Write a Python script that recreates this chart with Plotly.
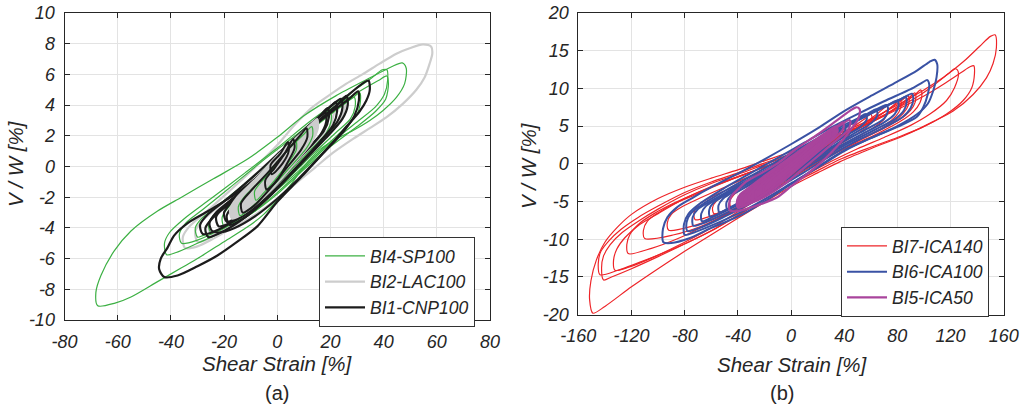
import plotly.graph_objects as go

# ---------------- Panel (a) data: hysteresis loops, (shear strain %, V/W %) ----------------
bi4_sp100 = [
    [(-67.5,-9.07),(-68.2,-8.2),(-66.3,-7.1),(-61.3,-5.5),(-55,-4.2),(-45,-2.9),(-36,-2.0),(-24,-0.8),(-11,0.5),(0,1.9),(10,3.3),(22,4.6),(34,5.7),(43,6.5),(47,6.75),(48.5,6.4),(47.9,5.4),(44.8,4.5),(39.8,3.65),(34.8,3.0),(28.5,2.35),(22.3,1.8),(16,1.1),(10,0.0),(5,-1.2),(0,-2.2),(-5,-3.1),(-10,-3.8),(-20,-4.9),(-30,-6.0),(-36,-6.6),(-45,-7.5),(-55,-8.5),(-61,-8.9),(-67.5,-9.07)],
    [(-41.6,-5.75),(-42.4,-5.0),(-40.5,-4.3),(-35,-3.4),(-25,-2.1),(-12,-0.4),(0,1.2),(12,2.9),(25,4.5),(35,5.7),(39.5,6.3),(41.2,6.3),(41.5,5.6),(40.3,4.7),(37,3.9),(30,2.9),(20,1.5),(10,-0.1),(0,-1.7),(-10,-3.1),(-20,-4.2),(-30,-5.0),(-38,-5.6),(-41.6,-5.75)],
    [(-36,-5.0),(-36.8,-4.4),(-34.5,-3.7),(-28,-2.8),(-18,-1.4),(-6,0.3),(6,1.9),(18,3.5),(30,4.8),(38,5.6),(41.2,5.9),(41.8,5.4),(40.8,4.4),(37,3.6),(30,2.6),(20,1.3),(10,-0.2),(0,-1.8),(-10,-3.1),(-20,-4.0),(-30,-4.8),(-36,-5.0)],
    [(-30,-4.6),(-30.8,-4.0),(-28.5,-3.4),(-22,-2.5),(-12,-1.1),(0,0.7),(12,2.4),(22,3.7),(28.5,4.5),(31,4.8),(31.3,4.3),(30,3.4),(26,2.6),(18,1.3),(8,-0.3),(-2,-1.8),(-12,-3.1),(-22,-4.1),(-28,-4.5),(-30,-4.6)],
    [(-25,-4.3),(-25.8,-3.7),(-23,-3.0),(-15,-1.9),(-5,-0.4),(5,1.2),(15,2.7),(24,3.9),(29,4.5),(29.3,3.9),(27.5,3.1),(22,2.2),(14,0.9),(4,-0.8),(-6,-2.4),(-16,-3.6),(-22,-4.2),(-25,-4.3)],
    [(-20,-3.9),(-20.7,-3.3),(-18,-2.6),(-10,-1.4),(0,0.3),(10,1.9),(17,3.1),(20,3.6),(20.3,3.0),(18.5,2.2),(12,1.0),(2,-0.8),(-8,-2.4),(-15,-3.4),(-20,-3.9)],
]
bi4_sp100_inner = [
    [(-14,-3.2),(-14.6,-2.6),(-12,-1.9),(-5,-0.7),(3,0.9),(10,2.1),(13,2.6),(13.3,2.0),(11,1.2),(4,-0.2),(-4,-1.7),(-10,-2.7),(-14,-3.2)],
    [(-8,-2.2),(-8.5,-1.6),(-5,-0.8),(0,0.2),(5,1.3),(7,1.7),(7.2,1.1),(4,0.2),(-1,-0.9),(-5,-1.7),(-8,-2.2)],
]

bi2_lac100 = [
    [(-34.7,-5.3),(-35.5,-4.6),(-33,-3.9),(-27,-3.0),(-18,-1.6),(-8,0.0),(0,1.4),(7,2.8),(13.5,3.9),(20,4.7),(26,5.4),(32,6.0),(38.5,6.7),(44.8,7.35),(49.8,7.7),(54.8,7.95),(57.9,7.8),(58.3,7.35),(57.3,6.7),(55.4,5.8),(52.3,5.0),(47.3,4.1),(41,3.2),(34.8,2.5),(28.5,1.8),(21,0.9),(14,-0.1),(7,-1.1),(0,-2.1),(-8,-3.1),(-16,-3.9),(-24,-4.7),(-30,-5.2),(-34.7,-5.3)],
    [(-30,-4.9),(-30.8,-4.2),(-28,-3.5),(-20,-2.3),(-10,-0.8),(0,0.8),(10,2.3),(19,3.7),(24,4.4),(25.3,4.5),(25.5,3.9),(23.5,3.0),(18,1.9),(10,0.5),(0,-1.3),(-10,-2.9),(-20,-4.1),(-27,-4.8),(-30,-4.9)],
    [(-25,-4.4),(-25.8,-3.8),(-23,-3.1),(-15,-1.9),(-5,-0.3),(5,1.4),(14,2.9),(19.5,3.8),(21,4.0),(21.2,3.4),(19.5,2.5),(13,1.2),(4,-0.5),(-6,-2.2),(-15,-3.5),(-22,-4.3),(-25,-4.4)],
]
bi2_lac100_core = [
    [(-17,-3.4),(-17.8,-2.8),(-15,-2.0),(-8,-0.8),(0,0.7),(8,2.0),(13,2.8),(15,3.1),(15.3,2.5),(13,1.6),(7,0.3),(-1,-1.3),(-9,-2.6),(-14,-3.2),(-17,-3.4)],
]

bi1_cnp100 = [
    [(-42.5,-7.2),(-44.4,-6.7),(-43.8,-6.0),(-41.3,-5.3),(-38.8,-4.5),(-33.8,-3.7),(-26,-2.9),(-17.5,-2.0),(-9,-0.9),(0,0.6),(10,2.1),(20,3.6),(27,4.7),(32,5.4),(34.3,5.6),(34.8,5.0),(33.5,4.3),(31,3.6),(26,2.6),(20,1.4),(10,-0.5),(0,-2.3),(-7.5,-3.9),(-15,-4.9),(-22.5,-5.8),(-30,-6.5),(-37.5,-7.1),(-42.5,-7.2)],
    [(-24.5,-4.2),(-25.5,-3.7),(-23,-3.0),(-16,-2.0),(-8,-0.8),(0,0.5),(10,2.1),(20,3.5),(27,4.4),(30.4,4.9),(30.7,4.3),(29,3.3),(25,2.3),(18,1.0),(8,-0.8),(0,-2.1),(-8,-3.2),(-16,-4.0),(-22,-4.3),(-24.5,-4.2)],
    [(-28,-4.4),(-29,-3.8),(-26,-3.1),(-18,-2.0),(-8,-0.5),(2,1.1),(12,2.7),(17,3.4),(18.2,3.5),(18.4,2.9),(16,2.0),(8,0.5),(-2,-1.5),(-12,-3.0),(-22,-4.1),(-28,-4.4)],
    [(-26,-4.6),(-27,-4.0),(-24,-3.3),(-15,-2.0),(-5,-0.4),(5,1.3),(15,2.9),(23,4.1),(26,4.6),(26.5,4.0),(24.5,3.1),(18,1.8),(8,0.0),(-2,-1.8),(-12,-3.3),(-20,-4.2),(-26,-4.6)],
    [(-22,-3.9),(-23,-3.3),(-20,-2.6),(-12,-1.4),(-3,0.0),(6,1.6),(15,3.1),(20.5,4.0),(22,4.2),(22.5,3.6),(21,2.7),(16,1.6),(7,-0.1),(-2,-1.7),(-11,-3.0),(-18,-3.7),(-22,-3.9)],
    [(-18,-3.8),(-19,-3.2),(-16,-2.4),(-8,-1.0),(2,0.8),(12,2.6),(20,3.9),(24,4.4),(24.5,3.8),(22.5,2.9),(16,1.6),(6,-0.3),(-4,-2.1),(-12,-3.3),(-18,-3.8)],
    [(-19,-3.6),(-20,-3.0),(-17,-2.3),(-9,-1.1),(0,0.4),(9,2.0),(16,3.3),(19,3.8),(19.4,3.2),(17.5,2.3),(11,1.1),(2,-0.7),(-7,-2.2),(-14,-3.2),(-19,-3.6)],
]
bi1_cnp100_inner = [
    [(-13,-3.0),(-13.6,-2.4),(-10,-1.6),(-3,-0.3),(4,1.1),(9,2.1),(11,2.5),(11.3,1.9),(9,1.1),(3,-0.2),(-4,-1.7),(-9,-2.6),(-13,-3.0)],
    [(-4,-1.5),(-4.5,-0.9),(-1,-0.1),(3,0.9),(6,1.8),(6.5,1.2),(4,0.3),(0,-0.9),(-4,-1.5)],
    [(-2,-0.5),(-2.5,0.1),(1,0.8),(4,1.6),(4.3,1.0),(2,0.2),(-2,-0.5)],
]

# ---------------- Panel (b) data ----------------
bi7_ica140 = [
    [(-149,-19.8),(-151.5,-18.0),(-150.5,-15.5),(-146.5,-12.8),(-140,-10.4),(-130,-8.3),(-120,-6.7),(-100,-4.6),(-80,-3.1),(-60,-1.9),(-40,-0.8),(-20,0.4),(0,1.6),(20,2.9),(40,4.3),(60,5.9),(80,7.8),(100,9.8),(115,11.5),(130,13.6),(142,15.6),(150,16.9),(153.5,17.1),(154.5,15.4),(152,13.3),(147,11.4),(137,9.2),(122,7.0),(107,5.6),(87,3.9),(60,2.0),(37,0.3),(20,-1.2),(0,-3.0),(-20,-5.1),(-40,-7.2),(-60,-9.4),(-80,-11.6),(-100,-13.9),(-120,-16.3),(-140,-18.9),(-149,-19.8)],
    [(-143.7,-14.7),(-145,-13.2),(-143,-11.6),(-137,-10.2),(-128,-8.7),(-115,-7.1),(-100,-5.6),(-80,-3.8),(-60,-2.4),(-40,-1.2),(-20,0.1),(0,1.3),(20,2.6),(40,4.0),(60,5.5),(80,7.2),(100,9.0),(115,10.6),(128,12.1),(135,12.9),(137.5,13.0),(138,11.9),(136,10.1),(129.5,8.4),(117,6.6),(99.5,4.9),(80,3.5),(60,2.2),(37,0.6),(20,-0.9),(0,-2.7),(-20,-4.7),(-40,-6.8),(-60,-8.9),(-85,-11.0),(-110,-12.8),(-130,-14.1),(-143.7,-14.7)],
    [(-141,-15.4),(-142.5,-13.8),(-141,-12.2),(-136,-10.7),(-127,-9.1),(-114,-7.5),(-100,-6.0),(-80,-4.1),(-60,-2.6),(-40,-1.4),(-20,-0.1),(0,1.2),(20,2.6),(40,4.0),(60,5.6),(80,7.4),(95,8.9),(108,10.5),(118,11.9),(123,12.6),(125,12.5),(126,11.9),(123,10.1),(117,8.4),(104.5,6.6),(90,5.1),(70,3.5),(50,2.0),(30,0.3),(10,-1.6),(-10,-3.7),(-30,-5.8),(-50,-7.9),(-75,-10.2),(-100,-12.3),(-120,-13.9),(-135,-15.0),(-141,-15.4)],
    [(-132.4,-14.1),(-133.5,-12.8),(-131,-11.3),(-125,-9.8),(-115,-8.2),(-100,-6.6),(-80,-4.6),(-60,-3.0),(-40,-1.7),(-20,-0.4),(0,0.9),(20,2.4),(40,3.9),(60,5.5),(75,6.9),(87,8.3),(94,9.3),(97.5,9.8),(98.5,9.3),(97,8.1),(92,6.9),(82,5.6),(65,4.0),(45,2.4),(25,0.6),(5,-1.4),(-15,-3.6),(-35,-5.8),(-55,-8.0),(-80,-10.4),(-105,-12.5),(-122,-13.7),(-132.4,-14.1)],
    [(-122.4,-11.9),(-123.5,-10.7),(-121,-9.3),(-114,-7.9),(-103,-6.6),(-88,-5.2),(-70,-3.8),(-50,-2.4),(-30,-1.1),(-10,0.2),(10,1.6),(30,3.0),(50,4.6),(68,6.2),(80,7.6),(89,8.8),(93,9.4),(94,8.8),(92,7.6),(86,6.4),(74,5.1),(56,3.5),(36,1.8),(16,-0.1),(-5,-2.2),(-25,-4.3),(-45,-6.3),(-65,-8.2),(-85,-9.9),(-105,-11.2),(-122.4,-11.9)],
    [(-110,-9.9),(-111,-8.8),(-108,-7.6),(-100,-6.5),(-88,-5.3),(-72,-4.1),(-55,-2.8),(-35,-1.4),(-15,-0.1),(5,1.3),(25,2.8),(45,4.4),(62,6.0),(75,7.4),(84,8.5),(88,9.0),(89,8.4),(87,7.3),(81,6.1),(69,4.8),(52,3.2),(32,1.4),(12,-0.5),(-8,-2.6),(-28,-4.7),(-48,-6.7),(-68,-8.3),(-88,-9.4),(-110,-9.9)],
    [(-92,-8.8),(-93,-7.8),(-90,-6.7),(-82,-5.7),(-68,-4.5),(-50,-3.1),(-30,-1.6),(-10,-0.2),(10,1.3),(30,2.9),(50,4.6),(65,6.2),(76,7.6),(82,8.5),(83,7.9),(81,6.8),(75,5.7),(62,4.4),(45,2.9),(25,1.0),(5,-1.0),(-15,-3.1),(-35,-5.2),(-55,-7.0),(-75,-8.3),(-92,-8.8)],
    [(-72,-7.4),(-73,-6.5),(-70,-5.5),(-60,-4.4),(-45,-3.2),(-25,-1.6),(-5,0.0),(15,1.6),(35,3.3),(52,5.0),(64,6.5),(72,7.6),(73,7.0),(70,5.9),(62,4.8),(48,3.4),(30,1.6),(10,-0.4),(-10,-2.5),(-30,-4.5),(-50,-6.2),(-72,-7.4)],
    [(-58,-6.6),(-59,-5.8),(-56,-4.9),(-46,-3.8),(-30,-2.3),(-10,-0.5),(10,1.3),(30,3.1),(45,4.7),(55,5.9),(60,6.6),(61,6.0),(58,5.0),(48,3.8),(32,2.1),(12,0.0),(-8,-2.1),(-28,-4.2),(-45,-5.8),(-58,-6.6)],
    [(-45,-5.8),(-46,-5.0),(-43,-4.1),(-32,-2.8),(-15,-1.0),(5,1.0),(25,2.9),(38,4.3),(46,5.4),(47,4.8),(44,3.9),(34,2.6),(18,0.8),(-2,-1.4),(-22,-3.6),(-38,-5.2),(-45,-5.8)],
    [(-32,-4.8),(-33,-4.1),(-30,-3.3),(-18,-1.9),(-2,-0.1),(15,1.9),(27,3.4),(33,4.3),(34,3.7),(30,2.8),(18,1.3),(2,-0.6),(-14,-2.6),(-26,-4.1),(-32,-4.8)],
]

bi6_ica100 = [
    [(-96,-10.4),(-96.3,-8.6),(-93,-7.1),(-86,-5.8),(-75,-4.6),(-60,-3.1),(-40,-1.3),(-20,0.6),(0,2.6),(20,4.7),(40,7.0),(60,9.0),(80,10.9),(95,12.4),(104,13.5),(108,13.8),(110,13.2),(109.5,11.5),(107,9.7),(103,8.0),(95,6.6),(80,5.0),(60,3.4),(40,1.8),(20,-0.4),(0,-2.7),(-20,-5.0),(-40,-7.0),(-60,-8.5),(-77,-9.9),(-90,-10.5),(-96,-10.4)],
    [(-80,-9.4),(-80.5,-8.0),(-77,-6.6),(-68,-5.2),(-50,-3.2),(-30,-1.2),(-10,0.8),(10,2.8),(30,4.8),(50,6.6),(70,8.3),(90,9.9),(99,10.8),(102.5,11.1),(104,10.5),(103,9.3),(99.5,7.5),(94.5,6.2),(80,4.9),(60,3.4),(40,1.7),(20,-0.5),(0,-2.6),(-20,-4.7),(-40,-6.6),(-60,-8.2),(-73,-9.1),(-80,-9.4)],
    [(-78,-8.9),(-78.5,-7.7),(-75,-6.5),(-66,-5.3),(-50,-3.6),(-30,-1.6),(-10,0.4),(10,2.4),(30,4.3),(50,6.0),(70,7.6),(84,8.7),(91,9.3),(92,8.6),(90,7.4),(84,6.2),(70,4.8),(50,3.1),(30,1.1),(10,-1.1),(-10,-3.2),(-30,-5.2),(-50,-7.0),(-66,-8.3),(-78,-8.9)],
    [(-73.5,-8.2),(-74,-7.1),(-70,-6.0),(-60,-4.9),(-45,-3.4),(-25,-1.4),(-5,0.6),(15,2.6),(35,4.4),(55,6.2),(72,7.7),(82,8.5),(86,8.9),(87,8.2),(85,7.1),(78,5.9),(64,4.6),(45,2.9),(25,0.9),(5,-1.2),(-15,-3.3),(-35,-5.3),(-53,-6.9),(-65,-7.8),(-73.5,-8.2)],
    [(-67,-7.6),(-67.5,-6.6),(-64,-5.6),(-54,-4.5),(-38,-2.9),(-18,-0.9),(2,1.1),(22,3.1),(42,5.0),(60,6.7),(73,7.8),(80,8.4),(81,7.7),(78,6.6),(70,5.5),(55,4.1),(36,2.3),(16,0.3),(-4,-1.8),(-24,-3.9),(-44,-5.8),(-58,-7.0),(-67,-7.6)],
    [(-61,-7.0),(-61.5,-6.1),(-58,-5.1),(-48,-4.0),(-32,-2.4),(-12,-0.4),(8,1.6),(28,3.6),(46,5.4),(61,6.9),(72,7.8),(73,7.1),(70,6.0),(60,4.9),(44,3.4),(24,1.4),(4,-0.7),(-16,-2.9),(-36,-4.9),(-52,-6.4),(-61,-7.0)],
    [(-54,-6.4),(-54.5,-5.5),(-51,-4.6),(-40,-3.4),(-22,-1.6),(-2,0.4),(18,2.5),(36,4.4),(52,6.0),(64,7.2),(65,6.5),(61,5.5),(50,4.3),(32,2.4),(12,0.3),(-8,-1.9),(-28,-4.0),(-45,-5.7),(-54,-6.4)],
    [(-48,-6.0),(-48.5,-5.1),(-45,-4.2),(-33,-3.0),(-15,-1.1),(5,1.0),(25,3.1),(42,4.9),(56,6.6),(57,5.9),(52,4.9),(40,3.6),(22,1.6),(2,-0.6),(-18,-2.9),(-36,-4.9),(-48,-6.0)],
    [(-38,-5.3),(-38.5,-4.5),(-35,-3.7),(-22,-2.2),(-5,-0.2),(15,2.0),(30,3.8),(40,5.2),(41,4.5),(36,3.4),(22,1.6),(2,-0.7),(-18,-3.0),(-32,-4.6),(-38,-5.3)],
    [(-25,-4.0),(-25.5,-3.3),(-22,-2.5),(-10,-1.0),(5,0.8),(18,2.7),(25,3.8),(26,3.1),(20,1.8),(6,0.0),(-10,-2.0),(-20,-3.3),(-25,-4.0)],
]

bi5_ica50 = [
    [(-46,-6.2),(-46.5,-5.2),(-44.5,-4.2),(-40,-3.4),(-34,-2.4),(-20,-1.0),(-9,0.2),(4,2.0),(20,3.9),(34,5.7),(44,7.0),(49,7.5),(51.5,7.3),(51.7,6.6),(49.5,5.6),(46,4.8),(40,3.4),(34,2.2),(24,0.4),(11,-1.5),(0,-3.0),(-10,-4.4),(-22,-5.3),(-34,-6.0),(-42,-6.3),(-46,-6.2)],
    [(-40,-5.8),(-40.5,-4.9),(-38,-4.0),(-30,-3.0),(-18,-1.5),(-5,0.2),(10,2.0),(25,3.8),(37,5.1),(44,5.8),(44.6,5.2),(42,4.3),(34,3.1),(22,1.3),(8,-0.8),(-5,-2.7),(-18,-4.2),(-30,-5.2),(-40,-5.8)],
    [(-36,-5.5),(-36.5,-4.6),(-33,-3.7),(-24,-2.6),(-10,-0.9),(5,0.9),(20,2.9),(32,4.5),(39,5.5),(39.6,4.8),(36,3.9),(27,2.6),(14,0.7),(0,-1.4),(-12,-3.2),(-25,-4.6),(-36,-5.5)],
    [(-31,-5.1),(-31.5,-4.3),(-28,-3.4),(-18,-2.1),(-4,-0.3),(10,1.6),(24,3.5),(34,4.9),(34.6,4.2),(30,3.2),(18,1.4),(4,-0.7),(-9,-2.6),(-21,-4.1),(-31,-5.1)],
    [(-26,-4.6),(-26.5,-3.8),(-23,-2.9),(-12,-1.5),(2,0.4),(16,2.4),(29,4.4),(29.5,3.7),(25,2.7),(13,1.0),(0,-1.0),(-13,-3.0),(-26,-4.6)],
    [(-20,-3.9),(-20.5,-3.1),(-17,-2.3),(-6,-0.8),(8,1.2),(22,3.5),(22.5,2.8),(17,1.7),(4,-0.2),(-9,-2.3),(-20,-3.9)],
]
bi5_ica50_core = [
    [(-40,-5.6),(-40,-4.6),(-32,-3.2),(-20,-1.6),(-5,0.3),(10,2.2),(25,4.0),(34,5.0),(35,4.2),(28,3.0),(14,1.0),(0,-1.2),(-14,-3.2),(-28,-4.8),(-40,-5.6)],
]

# axis ticks
xa_ticks = [-80, -60, -40, -20, 0, 20, 40, 60, 80]
ya_ticks = [-10, -8, -6, -4, -2, 0, 2, 4, 6, 8, 10]
xb_ticks = [-160, -120, -80, -40, 0, 40, 80, 120, 160]
yb_ticks = [-20, -15, -10, -5, 0, 5, 10, 15, 20]

FONT = "Liberation Sans"
fig = go.Figure()


def add_series(loops, name, color, width, xa, ya, legend, rank, show=True, fill=None):
    xs, ys = [], []
    for loop in loops:
        for x, y in loop:
            xs.append(x)
            ys.append(y)
        xs.append(None)
        ys.append(None)
    fig.add_trace(go.Scatter(
        x=xs, y=ys, mode="lines", name=name, xaxis=xa, yaxis=ya,
        line=dict(color=color, width=width, shape="spline", smoothing=0.8),
        legend=legend, legendrank=rank, showlegend=show, legendgroup=name,
        fill=fill, fillcolor=color if fill else None, hoverinfo="skip"))


GREEN, GRAY, BLACK = "#3cb043", "#cdcdcd", "#1c1c1c"
RED, BLUE, PURPLE = "#ee2428", "#3a52a4", "#a9449c"

add_series(bi2_lac100, "BI2-LAC100", GRAY, 2.2, "x", "y", "legend", 2)
add_series(bi4_sp100, "BI4-SP100", GREEN, 1.2, "x", "y", "legend", 1)
add_series(bi1_cnp100, "BI1-CNP100", BLACK, 2.2, "x", "y", "legend", 3)
add_series(bi2_lac100_core, "BI2-LAC100", GRAY, 2.0, "x", "y", "legend", 2, show=False, fill="toself")
add_series(bi4_sp100_inner, "BI4-SP100", GREEN, 1.2, "x", "y", "legend", 1, show=False)
add_series(bi1_cnp100_inner, "BI1-CNP100", BLACK, 2.0, "x", "y", "legend", 3, show=False)

add_series(bi7_ica140, "BI7-ICA140", RED, 1.2, "x2", "y2", "legend2", 1)
add_series(bi6_ica100, "BI6-ICA100", BLUE, 2.0, "x2", "y2", "legend2", 2)
add_series(bi5_ica50_core, "BI5-ICA50", PURPLE, 2.0, "x2", "y2", "legend2", 3, show=False, fill="toself")
add_series(bi5_ica50, "BI5-ICA50", PURPLE, 2.2, "x2", "y2", "legend2", 3)

W, H = 1029, 409
axis_common = dict(
    showline=True, linecolor="#262626", linewidth=1, mirror="ticks",
    ticks="inside", ticklen=5, tickcolor="#262626", tickwidth=1,
    showgrid=True, gridcolor="#e3e3e3", gridwidth=1, zeroline=False,
    automargin=False,
    tickfont=dict(family=FONT, size=18, color="#262626", style="italic"),
)


def tt(vals):
    return [str(v) for v in vals]


fig.update_layout(
    width=W, height=H, margin=dict(l=0, r=0, t=0, b=0, autoexpand=False),
    paper_bgcolor="white", plot_bgcolor="white",
    font=dict(family=FONT, color="#262626"),
    xaxis=dict(domain=[64.5 / W, 490 / W], anchor="y", range=[-80, 80],
               tickvals=xa_ticks, ticktext=tt(xa_ticks), ticklabelstandoff=5, **axis_common),
    yaxis=dict(domain=[1 - 320 / H, 1 - 13 / H], anchor="x", range=[-10, 10],
               tickvals=ya_ticks, ticktext=tt(ya_ticks), ticklabelstandoff=5, **axis_common),
    xaxis2=dict(domain=[578.3 / W, 1003.7 / W], anchor="y2", range=[-160, 160],
                tickvals=xb_ticks, ticktext=tt(xb_ticks), ticklabelstandoff=5, **axis_common),
    yaxis2=dict(domain=[1 - 314.7 / H, 1 - 13 / H], anchor="x2", range=[-20, 20],
                tickvals=yb_ticks, ticktext=tt(yb_ticks), ticklabelstandoff=5, **axis_common),
    legend=dict(x=319 / W, y=1 - 237 / H, xanchor="left", yanchor="top",
                bgcolor="white", bordercolor="#333333", borderwidth=1,
                font=dict(family=FONT, size=17.5, color="#262626", style="italic"),
                tracegroupgap=0, itemwidth=40, traceorder="normal"),
    legend2=dict(x=841 / W, y=1 - 227 / H, xanchor="left", yanchor="top",
                 bgcolor="white", bordercolor="#333333", borderwidth=1,
                 font=dict(family=FONT, size=17.5, color="#262626", style="italic"),
                 tracegroupgap=0, itemwidth=40, traceorder="normal"),
    showlegend=True,
)

ann_font = dict(family=FONT, size=20.5, color="#262626", style="italic")
annotations = [
    dict(text="Shear Strain [%]", x=277 / W, y=1 - 363 / H, font=ann_font),
    dict(text="Shear Strain [%]", x=792 / W, y=1 - 364 / H, font=ann_font),
    dict(text="V / W [%]", x=15 / W, y=1 - 164 / H, textangle=-90, font=ann_font),
    dict(text="V / W [%]", x=528 / W, y=1 - 166 / H, textangle=-90, font=ann_font),
    dict(text="(a)", x=277 / W, y=1 - 393 / H, font=dict(family=FONT, size=20, color="#262626")),
    dict(text="(b)", x=782 / W, y=1 - 393 / H, font=dict(family=FONT, size=20, color="#262626")),
]
for a in annotations:
    a.update(xref="paper", yref="paper", showarrow=False, xanchor="center", yanchor="middle")
fig.update_layout(annotations=annotations)

fig.write_html("out.html")
